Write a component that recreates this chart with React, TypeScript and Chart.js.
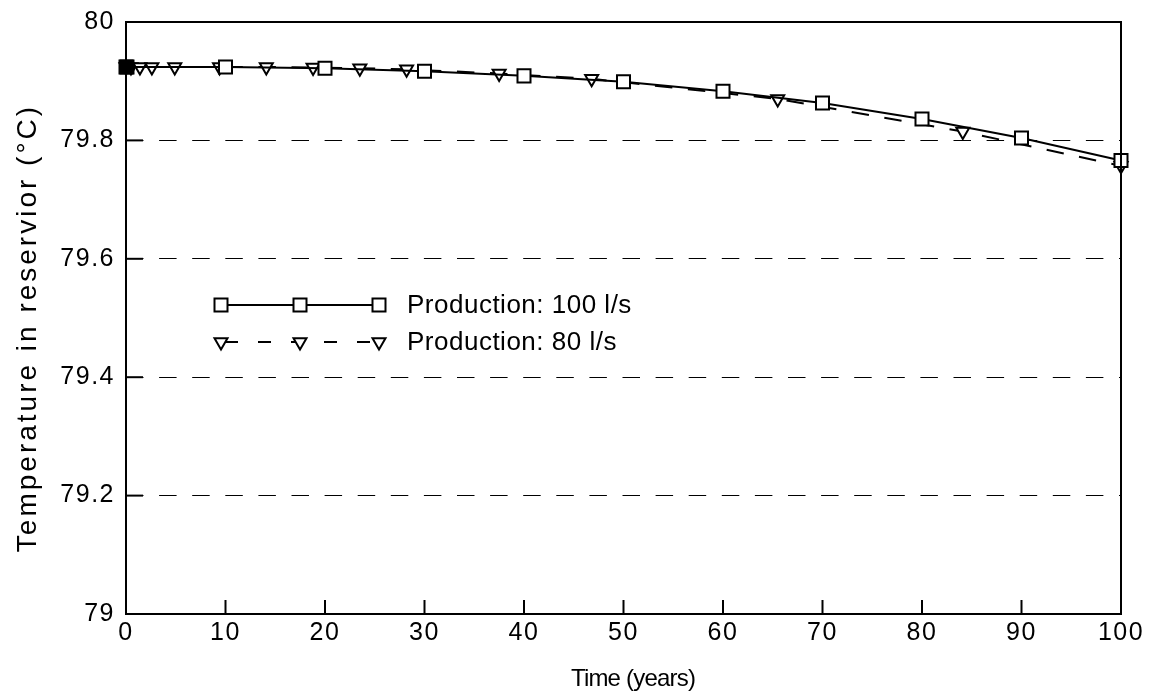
import React, { useEffect, useRef } from "react";
import { Chart, registerables } from "chart.js";

Chart.register(...registerables);

const years100 = [0, 0.1, 10, 20, 30, 40, 50, 60, 70, 80, 90, 100];
const temp100 = [79.924, 79.924, 79.924, 79.922, 79.917, 79.909, 79.899, 79.883, 79.863, 79.836, 79.804, 79.766];

const years80 = [0, 0.5, 1.4, 2.6, 4.9, 9.4, 14.1, 18.8, 23.5, 28.2, 37.5, 46.8, 65.5, 84.1, 100];
const temp80 = [79.924, 79.924, 79.924, 79.924, 79.924, 79.924, 79.924, 79.923, 79.922, 79.92, 79.913, 79.904, 79.87, 79.815, 79.757];

const seriesLabels = ["Production: 100 l/s", "Production: 80 l/s"];
const xTitle = "Time (years)";
const yTitle = "Temperature in reservior (°C)";
const xTicks = [0, 10, 20, 30, 40, 50, 60, 70, 80, 90, 100];
const yTicks = [79, 79.2, 79.4, 79.6, 79.8, 80];

const FONT = "'Liberation Sans', Arial, sans-serif";
const DASH = [17.5, 15.6];

function drawSquare(ctx: CanvasRenderingContext2D, x: number, y: number, fill: string) {
  const s = 6.5;
  ctx.save();
  ctx.setLineDash([]);
  ctx.fillStyle = fill;
  ctx.strokeStyle = "#000";
  ctx.lineWidth = 2;
  ctx.beginPath();
  ctx.rect(x - s, y - s, 2 * s, 2 * s);
  ctx.fill();
  ctx.stroke();
  ctx.restore();
}

function drawTri(ctx: CanvasRenderingContext2D, x: number, y: number) {
  const r = 7.5;
  ctx.save();
  ctx.setLineDash([]);
  ctx.fillStyle = "#fff";
  ctx.strokeStyle = "#000";
  ctx.lineWidth = 2;
  ctx.beginPath();
  ctx.moveTo(x, y + r);
  ctx.lineTo(x - r * 0.866, y - r / 2);
  ctx.lineTo(x + r * 0.866, y - r / 2);
  ctx.closePath();
  ctx.fill();
  ctx.stroke();
  ctx.restore();
}

const customPlugin = {
  id: "customDecor",
  beforeDraw(chart: any) {
    chart.ctx.letterSpacing = "1.5px";
  },
  afterDraw(chart: any) {
    const ctx: CanvasRenderingContext2D = chart.ctx;
    const { left, right, top, bottom } = chart.chartArea;
    const xs = chart.scales.x;
    const ys = chart.scales.y;
    ctx.save();
    ctx.letterSpacing = "0px";
    ctx.strokeStyle = "#000";
    ctx.lineWidth = 2;
    ctx.setLineDash([]);
    // inward ticks
    xs.ticks.forEach((t: any) => {
      const px = xs.getPixelForValue(t.value);
      ctx.beginPath();
      ctx.moveTo(px, bottom);
      ctx.lineTo(px, bottom - 14);
      ctx.stroke();
    });
    ys.ticks.forEach((t: any) => {
      const py = ys.getPixelForValue(t.value);
      ctx.beginPath();
      ctx.moveTo(left, py);
      ctx.lineTo(left + 17, py);
      ctx.stroke();
    });
    // frame
    ctx.strokeRect(left, top, right - left, bottom - top);

    // legend
    const lx0 = 221, lx1 = 300, lx2 = 379;
    const ly1 = 305, ly2 = 342;
    ctx.lineWidth = 2;
    ctx.beginPath();
    ctx.moveTo(lx0, ly1);
    ctx.lineTo(lx2, ly1);
    ctx.stroke();
    drawSquare(ctx, lx0, ly1, "#fff");
    drawSquare(ctx, lx1, ly1, "#fff");
    drawSquare(ctx, lx2, ly1, "#fff");
    ctx.setLineDash([13, 20]);
    ctx.lineDashOffset = -4;
    ctx.beginPath();
    ctx.moveTo(lx0, ly2);
    ctx.lineTo(lx2, ly2);
    ctx.stroke();
    ctx.setLineDash([]);
    drawTri(ctx, lx0, ly2);
    drawTri(ctx, lx1, ly2);
    drawTri(ctx, lx2, ly2);

    ctx.fillStyle = "#000";
    ctx.font = `26px ${FONT}`;
    ctx.letterSpacing = "0.5px";
    ctx.textAlign = "left";
    ctx.textBaseline = "middle";
    ctx.fillText(seriesLabels[0], 407, ly1 + 1);
    ctx.fillText(seriesLabels[1], 407, ly2 + 1);

    // axis titles
    ctx.font = `24px ${FONT}`;
    ctx.letterSpacing = "-0.8px";
    ctx.textAlign = "center";
    ctx.textBaseline = "middle";
    ctx.fillText(xTitle, 633, 679);

    ctx.save();
    ctx.translate(28, 328);
    ctx.rotate(-Math.PI / 2);
    ctx.font = `28px ${FONT}`;
    ctx.letterSpacing = "3px";
    ctx.fillText(yTitle, 0, 0);
    ctx.restore();

    ctx.restore();
  },
};

export default function App() {
  const canvasRef = useRef<HTMLCanvasElement | null>(null);

  useEffect(() => {
    const canvas = canvasRef.current;
    if (!canvas) return;
    const chart = new Chart(canvas, {
      type: "line",
      data: {
        datasets: [
          {
            label: seriesLabels[0],
            data: years100.map((x, i) => ({ x, y: temp100[i] })),
            borderColor: "#000",
            borderWidth: 2,
            pointStyle: "rect",
            pointRadius: 9.2,
            pointBorderWidth: 2,
            pointBorderColor: "#000",
            pointBackgroundColor: (c: any) => (c.raw && c.raw.x < 0.5 ? "#000" : "#fff"),
            tension: 0,
            clip: false as any,
          },
          {
            label: seriesLabels[1],
            data: years80.map((x, i) => ({ x, y: temp80[i] })),
            borderColor: "#000",
            borderWidth: 2,
            borderDash: DASH,
            pointStyle: "triangle",
            pointRotation: 180,
            pointRadius: 7.5,
            pointBorderWidth: 2,
            pointBorderColor: "#000",
            pointBackgroundColor: "#fff",
            tension: 0,
            clip: false as any,
          },
        ],
      },
      plugins: [customPlugin],
      options: {
        animation: false,
        responsive: false,
        maintainAspectRatio: false,
        layout: { padding: { left: 0, top: 22, right: 30, bottom: 0 } },
        plugins: {
          legend: { display: false },
          tooltip: { enabled: false },
        },
        scales: {
          x: {
            type: "linear",
            min: 0,
            max: 100,
            afterFit: (s: any) => {
              s.height = 81;
              s.paddingLeft = 0;
              s.paddingRight = 0;
            },
            afterBuildTicks: (s: any) => {
              s.ticks = xTicks.map((v) => ({ value: v }));
            },
            grid: { display: false, drawTicks: false },
            border: { display: false },
            ticks: {
              color: "#000",
              padding: 4,
              maxRotation: 0,
              font: { family: FONT, size: 25 },
              callback: (v: any) => String(v),
            },
            title: { display: false },
          },
          y: {
            type: "linear",
            min: 79,
            max: 80,
            afterFit: (s: any) => {
              s.width = 126;
              s.paddingTop = 0;
              s.paddingBottom = 0;
            },
            afterBuildTicks: (s: any) => {
              s.ticks = yTicks.map((v) => ({ value: v }));
            },
            grid: {
              drawTicks: false,
              color: (c: any) => {
                const v = c.tick ? c.tick.value : 0;
                return v > 79.05 && v < 79.95 ? "#000" : "rgba(0,0,0,0)";
              },
              lineWidth: 1,
            },
            border: { display: false, dash: DASH },
            ticks: {
              color: "#000",
              padding: 11,
              font: { family: FONT, size: 25 },
              callback: (v: any) => String(Number(Number(v).toFixed(1))),
            },
            title: { display: false },
          },
        },
      } as any,
    });
    (chart.options.scales as any).y.border.dash = DASH;
    chart.update();
    return () => chart.destroy();
  }, []);

  return (
    <div style={{ position: "absolute", left: 0, top: 0, width: 1151, height: 695, background: "#fff" }}>
      <canvas ref={canvasRef} width={1151} height={695} style={{ width: 1151, height: 695 }} />
    </div>
  );
}
